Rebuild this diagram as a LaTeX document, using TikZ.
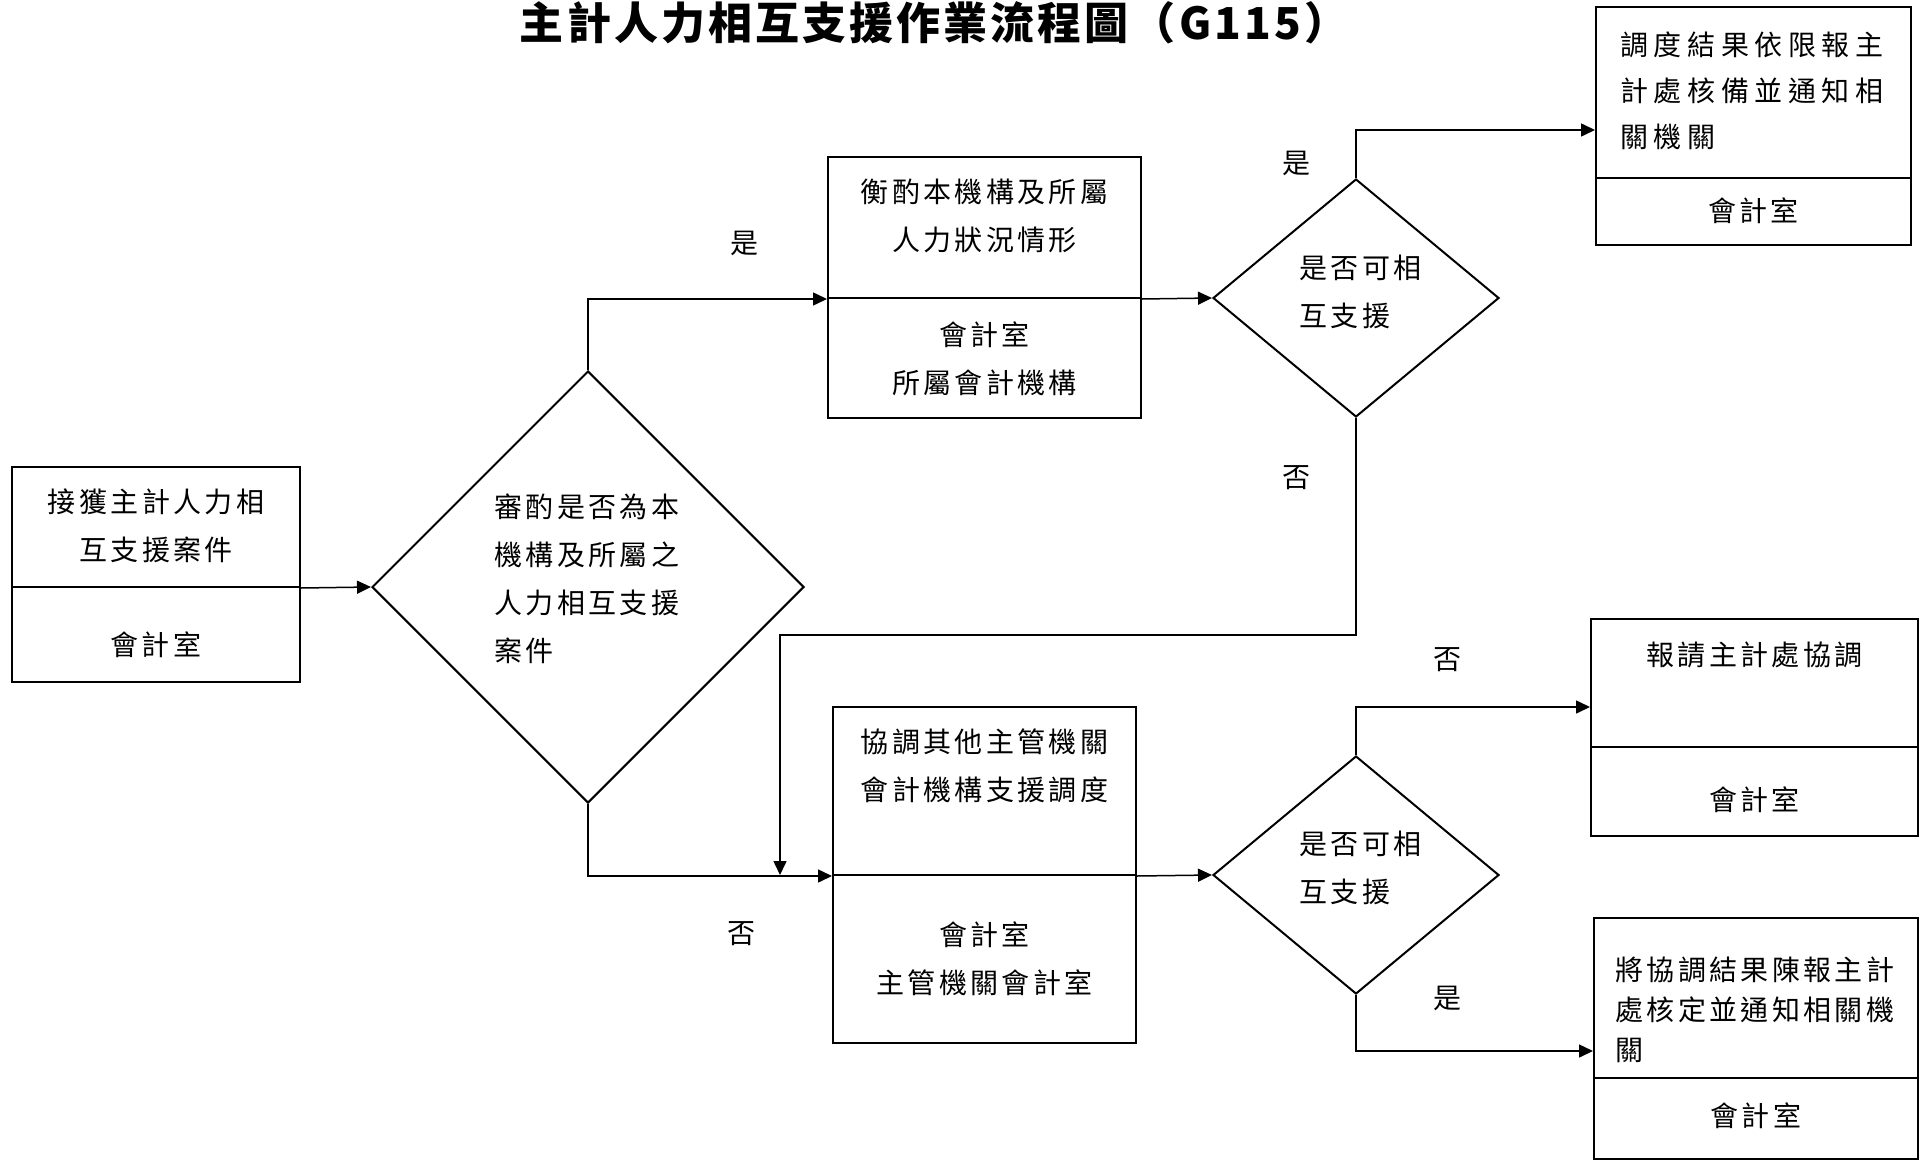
\documentclass[tikz,border=0pt]{standalone}
\usepackage{fontspec}
\setmainfont{Noto Sans CJK TC}
\newfontfamily\boxfont{Noto Sans CJK TC}[LetterSpace=12]
\newfontfamily\wideboxfont{Noto Sans CJK TC}[LetterSpace=20]
\newfontfamily\titlefont{Noto Sans CJK TC}[LetterSpace=7]
\usetikzlibrary{shapes.geometric,arrows.meta}

\tikzset{
  part/.style={draw, line width=1pt, inner sep=0pt},
  ask/.style={draw, diamond, line width=1pt, inner sep=0pt},
  txt/.style={inner sep=0pt, align=center, font=\boxfont\fontsize{14}{24}\selectfont},
  ltxt/.style={txt, align=left, anchor=west},
  arr/.style={line width=0.75pt, -{Triangle[length=7pt,width=6.5pt]}},
}

\begin{document}
\begin{tikzpicture}[x=0.5pt,y=-0.5pt]
  \useasboundingbox (0,0) rectangle (1921,1161);
  \node[font=\titlefont\bfseries\fontsize{22}{26}\selectfont] (title) at (934,23) {主計人力相互支援作業流程圖（G115）};

  % boxes: upper part with the task, lower part with the unit
  \node[part, minimum width=144pt, minimum height=60pt] (n1) at (156,527) {};
  \node[part, minimum width=144pt, minimum height=47.5pt] (n1r) at (156,634.5) {};
  \node[part, minimum width=156.5pt, minimum height=70.5pt] (n2) at (984.5,227.5) {};
  \node[part, minimum width=156.5pt, minimum height=60pt] (n2r) at (984.5,358) {};
  \node[part, minimum width=157.5pt, minimum height=85.5pt] (n3) at (1753.5,92.5) {};
  \node[part, minimum width=157.5pt, minimum height=33.5pt] (n3r) at (1753.5,211.5) {};
  \node[part, minimum width=151.5pt, minimum height=84pt] (n4) at (984.5,791) {};
  \node[part, minimum width=151.5pt, minimum height=84pt] (n4r) at (984.5,959) {};
  \node[part, minimum width=163.5pt, minimum height=64pt] (n5) at (1754.5,683) {};
  \node[part, minimum width=163.5pt, minimum height=44.5pt] (n5r) at (1754.5,791.5) {};
  \node[part, minimum width=162pt, minimum height=80pt] (n6) at (1756,998) {};
  \node[part, minimum width=162pt, minimum height=40.5pt] (n6r) at (1756,1118.5) {};

  % decisions
  \node[ask, minimum width=216pt, minimum height=216pt] (d1) at (588,587) {};
  \node[ask, minimum width=143pt, minimum height=119pt] (d2) at (1356,298) {};
  \node[ask, minimum width=143pt, minimum height=119pt] (d3) at (1356,875) {};

  % texts
  \node[txt] (t1) at (156,526) {接獲主計人力相\\互支援案件};
  \node[txt] (t1r) at (156,645) {會計室};
  \node[txt] (t2) at (984.5,216) {衡酌本機構及所屬\\人力狀況情形};
  \node[txt] (t2r) at (984.5,359) {會計室\\所屬會計機構};
  \node[ltxt, font=\wideboxfont\fontsize{14}{23}\selectfont] (t3) at (1620,91) {調度結果依限報主\\計處核備並通知相\\關機關};
  \node[txt] (t3r) at (1753.5,211) {會計室};
  \node[txt] (t4) at (984.5,766) {協調其他主管機關\\會計機構支援調度};
  \node[txt] (t4r) at (984.5,959) {會計室\\主管機關會計室};
  \node[txt] (t5) at (1754.5,655) {報請主計處協調};
  \node[txt] (t5r) at (1754.5,800) {會計室};
  \node[ltxt, font=\boxfont\fontsize{14}{20}\selectfont] (t6) at (1615,1010) {將協調結果陳報主計\\處核定並通知相關機\\關};
  \node[txt] (t6r) at (1756,1116) {會計室};
  \node[ltxt] (q1) at (494,579) {審酌是否為本\\機構及所屬之\\人力相互支援\\案件};
  \node[ltxt] (q2) at (1299,292) {是否可相\\互支援};
  \node[ltxt] (q3) at (1299,868) {是否可相\\互支援};

  % flow
  \coordinate (jn) at (780,875);
  \draw[arr] (n1.south east) -- (d1.west);
  \draw[arr] (d1.north) |- (n2.south west);
  \draw[arr] (d1.south) |- (n4.south west);
  \draw[arr] (n2.south east) -- (d2.west);
  \draw[arr] (d2.north) |- ([yshift=-18.75pt]n3.west);
  \draw[arr] (d2.south) -- ++(0,217) -| (jn);
  \draw[arr] (n4.south east) -- (d3.west);
  \draw[arr] (d3.north) |- ([yshift=-12pt]n5.west);
  \draw[arr] (d3.south) |- ([yshift=-26.5pt]n6.west);

  \node[txt] (yes1) at (744,243) {是};
  \node[txt] (no1) at (741,934) {否};
  \node[txt] (yes2) at (1296,163) {是};
  \node[txt] (no2) at (1296,478) {否};
  \node[txt] (no3) at (1447,660) {否};
  \node[txt] (yes3) at (1447,998) {是};
\end{tikzpicture}
\end{document}
